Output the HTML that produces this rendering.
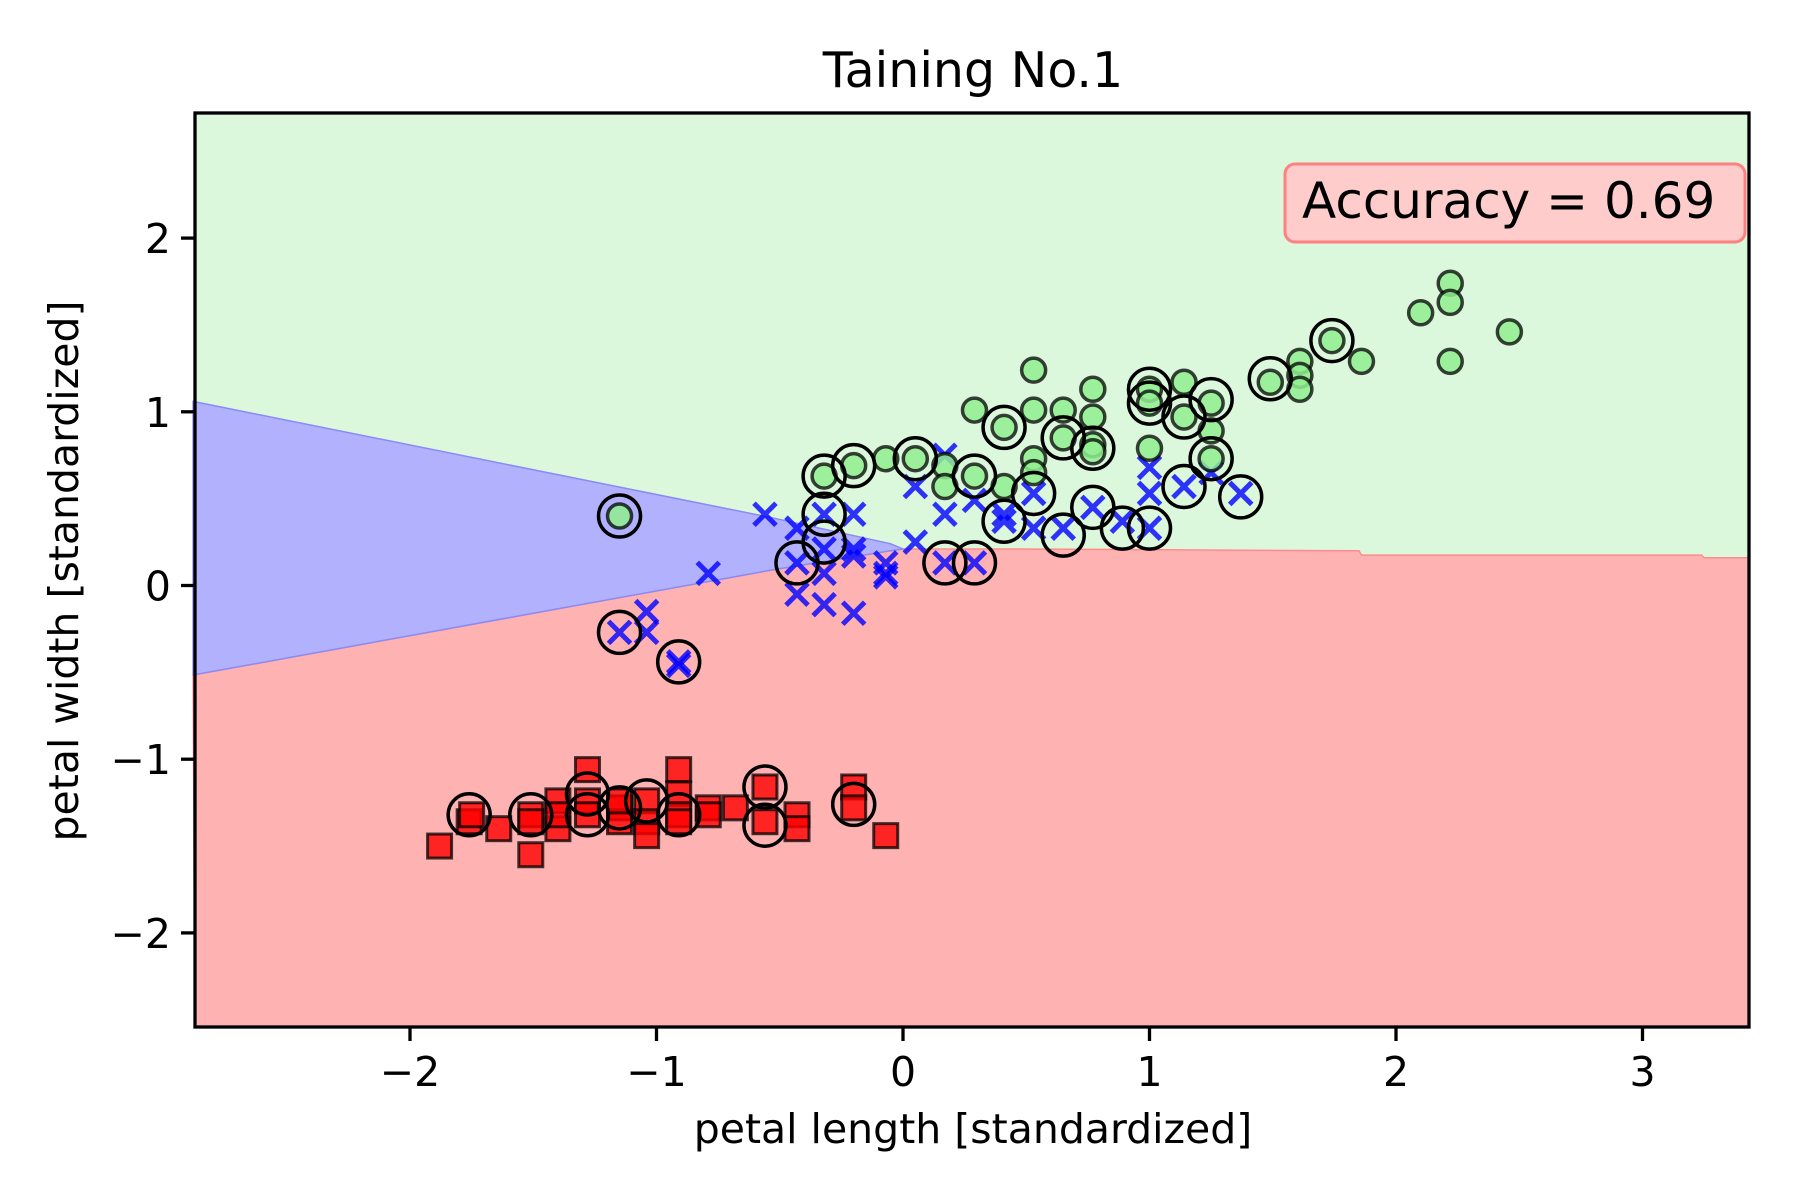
<!DOCTYPE html>
<html><head><meta charset="utf-8"><style>
html,body{margin:0;padding:0;background:#fff;}
svg{display:block;font-family:"DejaVu Sans","Liberation Sans",sans-serif;}
</style></head><body>
<svg id="chart" width="1800" height="1200" viewBox="0 0 1800 1200" xmlns="http://www.w3.org/2000/svg">
<g id="regions"></g>
<g id="marks"></g>
<g id="axes"></g>
<text x="973" y="87" font-size="49" text-anchor="middle">Taining No.1</text>
<text x="973" y="1143" font-size="41" text-anchor="middle">petal length [standardized]</text>
<text x="0" y="0" font-size="41" text-anchor="middle" transform="translate(78,571) rotate(-90)">petal width [standardized]</text>
<g>
<rect x="1285" y="164" width="460" height="78" rx="10" fill="#ffcccc" stroke="#ff8080" stroke-width="3"/>
<text x="1302" y="218" font-size="50">Accuracy = 0.69</text>
</g>
</svg>
<script>
const xTicks = [-2, -1, 0, 1, 2, 3];
const yTicks = [-2, -1, 0, 1, 2];
const xDomain = [-2.88, 3.45];
const yDomain = [-2.57, 2.71];
const redX = [-1.88,-1.76,-1.75,-1.64,-1.51,-1.51,-1.51,-1.40,-1.40,-1.28,-1.28,-1.28,-1.15,-1.15,-1.04,-1.04,-1.04,-0.91,-0.91,-0.91,-0.91,-0.79,-0.79,-0.68,-0.56,-0.56,-0.43,-0.43,-0.20,-0.20,-0.07,-1.15,-1.40];
const redY = [-1.50,-1.36,-1.32,-1.40,-1.55,-1.32,-1.36,-1.24,-1.40,-1.06,-1.24,-1.32,-1.28,-1.36,-1.24,-1.36,-1.44,-1.06,-1.20,-1.32,-1.36,-1.28,-1.32,-1.28,-1.16,-1.36,-1.32,-1.40,-1.16,-1.28,-1.44,-1.24,-1.32];
const blueX = [-1.15,-1.04,-1.04,-0.91,-0.79,-0.56,-0.43,-0.43,-0.43,-0.32,-0.32,-0.32,-0.32,-0.20,-0.20,-0.20,-0.20,-0.07,-0.07,0.05,0.05,0.17,0.17,0.17,0.29,0.29,0.41,0.41,0.53,0.53,0.65,0.77,0.89,1.00,1.00,1.00,1.14,1.25,1.37,-0.07,-0.91];
const blueY = [-0.27,-0.15,-0.27,-0.44,0.07,0.41,0.33,0.13,-0.05,0.41,0.21,0.07,-0.11,0.41,0.21,0.17,-0.16,0.13,0.07,0.57,0.25,0.75,0.41,0.13,0.49,0.13,0.41,0.37,0.53,0.33,0.33,0.45,0.37,0.68,0.53,0.33,0.57,0.65,0.53,0.05,-0.46];
const greenX = [-1.15,-0.32,-0.20,-0.07,0.05,0.17,0.17,0.29,0.29,0.41,0.41,0.53,0.53,0.53,0.53,0.65,0.65,0.77,0.77,0.77,0.77,1.00,1.00,1.00,1.14,1.14,1.25,1.25,1.25,1.49,1.61,1.61,1.61,1.74,1.86,2.10,2.22,2.22,2.22,2.46];
const greenY = [0.40,0.63,0.69,0.73,0.73,0.69,0.57,1.01,0.63,0.57,0.91,1.24,1.01,0.73,0.65,1.01,0.85,1.13,0.97,0.81,0.77,1.13,1.05,0.79,1.17,0.97,1.05,0.89,0.73,1.17,1.29,1.21,1.13,1.41,1.29,1.57,1.74,1.63,1.29,1.46];
const testX = [-1.76,-1.51,-1.28,-1.28,-1.15,-1.04,-0.91,-0.56,-0.56,-0.20,-1.15,-0.91,-0.43,-0.32,-0.32,0.17,0.29,0.41,0.53,0.65,0.77,0.89,1.00,1.14,1.37,-1.15,-0.32,-0.20,0.05,0.29,0.41,0.65,0.77,1.00,1.00,1.14,1.25,1.25,1.49,1.74];
const testY = [-1.32,-1.32,-1.20,-1.32,-1.28,-1.24,-1.32,-1.16,-1.38,-1.26,-0.27,-0.44,0.13,0.41,0.25,0.13,0.13,0.37,0.53,0.29,0.45,0.33,0.33,0.57,0.51,0.40,0.63,0.69,0.73,0.63,0.91,0.85,0.79,1.13,1.05,0.97,1.07,0.73,1.19,1.41];
const blueRegionX = [-2.88,-0.53,-0.05,0.0,-0.05,-0.53,-2.88];
const blueRegionY = [1.06,0.39,0.24,0.21,0.20,0.09,-0.515];
const redRegionX = [-2.88,-0.53,-0.05,0.0,0.47,1.85,1.86,3.24,3.25,3.45];
const redRegionY = [-0.515,0.09,0.20,0.21,0.21,0.20,0.175,0.175,0.16,0.16];

const L=195, R=1749, T=113, B=1027;
function sx(v){return 903 + 246.5*v;}
function sy(v){return 585.5 - 173.7*v;}
const NS='http://www.w3.org/2000/svg';
function mk(tag, parent, attrs){const e=document.createElementNS(NS,tag);for(const k in attrs)e.setAttribute(k,attrs[k]);parent.appendChild(e);return e;}

const reg=document.getElementById('regions');
const bg=mk('rect',reg,{x:L,y:T,width:R-L,height:B-T,fill:'#dcf8dc'});


let rp='M'+L+','+B;
for(let i=0;i<redRegionX.length;i++) rp+=' L'+Math.min(R,sx(redRegionX[i])).toFixed(1)+','+sy(redRegionY[i]).toFixed(1);
rp+=' L'+R+','+B+' Z';
const red=mk('path',reg,{d:rp,fill:'#ffb2b2',stroke:'#ff8c8c','stroke-width':1.5});


let bp='';
for(let i=0;i<blueRegionX.length;i++) bp+=(i?' L':'M')+sx(blueRegionX[i]).toFixed(1)+','+sy(blueRegionY[i]).toFixed(1);
bp+=' Z';
const blue=mk('path',reg,{d:bp,fill:'#b1b1fd',stroke:'#8a8af5','stroke-width':1.5});



const mg=document.getElementById('marks');
for(let i=0;i<redX.length;i++){
  const cx=sx(redX[i]), cy=sy(redY[i]);
  const s=mk('rect',mg,{x:cx-12,y:cy-12,width:24,height:24,fill:'rgba(255,0,0,0.8)',stroke:'rgba(0,0,0,0.75)','stroke-width':3});
  
  
}
for(let i=0;i<blueX.length;i++){
  const cx=sx(blueX[i]), cy=sy(blueY[i]);
  const p=mk('path',mg,{d:`M${cx-11},${cy-11} L${cx+11},${cy+11} M${cx-11},${cy+11} L${cx+11},${cy-11}`,stroke:'rgba(0,0,255,0.8)','stroke-width':5,fill:'none'});
  
  
}
for(let i=0;i<greenX.length;i++){
  const c=mk('circle',mg,{cx:sx(greenX[i]),cy:sy(greenY[i]),r:12,fill:'rgba(144,238,144,0.85)',stroke:'rgba(0,0,0,0.75)','stroke-width':3.5});
  
  
}
for(let i=0;i<testX.length;i++){
  const c=mk('circle',mg,{cx:sx(testX[i]),cy:sy(testY[i]),r:21,fill:'none',stroke:'#000','stroke-width':3.5});
  
  
}

const ax=document.getElementById('axes');
const frame=mk('rect',ax,{x:L,y:T,width:R-L,height:B-T,fill:'none',stroke:'#000','stroke-width':3.3});


function lab(v){return v<0?'\u2212'+Math.abs(v):String(v);}
for(const v of xTicks){
  const x=sx(v);
  const t=mk('line',ax,{x1:x,y1:B,x2:x,y2:B+14,stroke:'#000','stroke-width':3.3});
  
  
  const tx=mk('text',ax,{x:x,y:B+59,'font-size':41,'text-anchor':'middle'});
  tx.textContent=lab(v);
  
  
}
for(const v of yTicks){
  const y=sy(v);
  const t=mk('line',ax,{x1:L-14,y1:y,x2:L,y2:y,stroke:'#000','stroke-width':3.3});
  
  
  const tx=mk('text',ax,{x:L-24,y:y+15,'font-size':41,'text-anchor':'end'});
  tx.textContent=lab(v);
  
  
}
</script>
</body></html>
